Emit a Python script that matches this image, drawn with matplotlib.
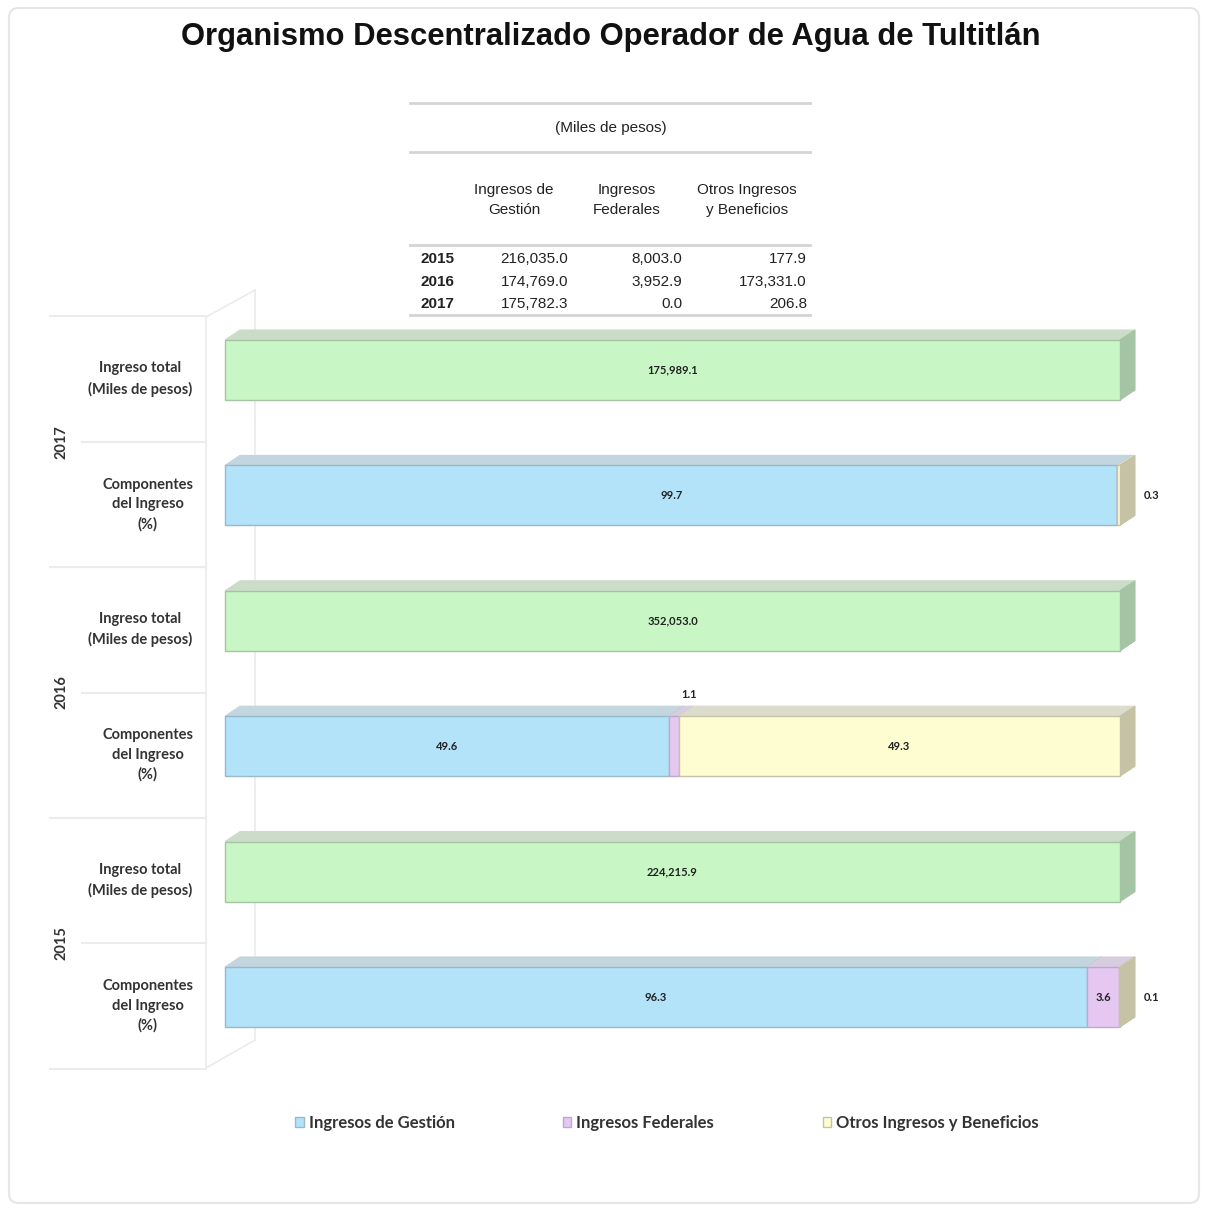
import numpy as np
import matplotlib.pyplot as plt
import matplotlib.transforms as mtransforms
from matplotlib.patches import Polygon, FancyBboxPatch
from matplotlib.lines import Line2D

W, H = 1206, 1209

# table data (miles de pesos)
years = ['2015', '2016', '2017']
table_cols = ['Ingresos de\nGestión', 'Ingresos\nFederales', 'Otros Ingresos\ny Beneficios']
ingresos_gestion = [216035.0, 174769.0, 175782.3]
ingresos_federales = [8003.0, 3952.9, 0.0]
otros_ingresos = [177.9, 173331.0, 206.8]

# chart data
total_ingreso = [224215.9, 352053.0, 175989.1]
pct_gestion = [96.3, 49.6, 99.7]
pct_federales = [3.6, 1.1, 0.0]
pct_otros = [0.1, 49.3, 0.3]

series_names = ['Ingresos de Gestión', 'Ingresos Federales', 'Otros Ingresos y Beneficios']
row_labels = ['Componentes\ndel Ingreso\n(%)', 'Ingreso total\n(Miles de pesos)']

# (front, top, side) colours
col_gestion = ('#b3e3f9', '#c3d5de', '#98b9c8')
col_federales = ('#e5c7f2', '#d8cce0', '#bfa9c9')
col_otros = ('#fdfdd1', '#dcdccc', '#c6c2a6')
col_total = ('#c8f7c5', '#cbdcc9', '#a5c4a3')


def fx(px):
    return px / W


def fy(py):
    return 1 - py / H


fig = plt.figure(figsize=(W / 100, H / 100), dpi=100)
fig.patch.set_facecolor('white')

# light frame round the whole picture
fig.patches.append(FancyBboxPatch((fx(9), fy(1203)), fx(1190), 1195 / H,
                                  boxstyle='round,pad=0,rounding_size=0.008',
                                  transform=fig.transFigure, facecolor='none',
                                  edgecolor='#e6e6e6', linewidth=1.5))

fig.text(fx(611), fy(37), 'Organismo Descentralizado Operador de Agua de Tultitlán',
         ha='center', va='center', fontsize=22.3, fontweight='bold',
         family='Liberation Sans', color='#111111')

# ---- table ----
tfont = dict(family='Liberation Sans', fontsize=11, color='#222222')
for y in (103, 152, 245, 315):
    fig.lines.append(Line2D([fx(410), fx(810)], [fy(y), fy(y)], transform=fig.transFigure,
                            color='#d4d4d4', linewidth=2))
fig.text(fx(611), fy(128), '(Miles de pesos)', ha='center', va='center', **tfont)
for cx, name in zip((514, 627, 747), table_cols):
    fig.text(fx(cx), fy(200), name, ha='center', va='center', linespacing=1.6, **tfont)
for i, yr in enumerate(years):
    yy = fy(259 + i * 22.5)
    fig.text(fx(420), yy, yr, ha='left', va='center', fontweight='bold', **tfont)
    vals = (ingresos_gestion[i], ingresos_federales[i], otros_ingresos[i])
    for rx, v in zip((568, 682, 807), vals):
        fig.text(fx(rx), yy, f'{v:,.1f}', ha='right', va='center', **tfont)

# faint wall of the 3D plot area (behind the bars)
wall = dict(transform=fig.transFigure, color='#ebebeb', linewidth=1.2, zorder=-1)
fig.lines.append(Line2D([fx(206), fx(206)], [fy(317), fy(1068)], **wall))
fig.lines.append(Line2D([fx(255), fx(255)], [fy(290), fy(1040)], **wall))
fig.lines.append(Line2D([fx(206), fx(255)], [fy(317), fy(290)], **wall))
fig.lines.append(Line2D([fx(206), fx(255)], [fy(1068), fy(1040)], **wall))

# ---- chart ----
ymin, ymax = -0.572, 5.428
px_per_unit = 125.4
ax_top = 370 - (ymax - 5) * px_per_unit
ax_bot = 997 - ymin * px_per_unit
ax = fig.add_axes([fx(225), fy(ax_bot), fx(1120 - 225), (ax_bot - ax_top) / H])
ax.set_xlim(0, 100)
ax.set_ylim(ymin, ymax)
ax.axis('off')

dx = 15 * 100 / (1120 - 225)
dy = 10 / px_per_unit
bar_h = 60 / px_per_unit
lab_font = dict(family='Lato', fontweight='bold', fontsize=8, color='#222222')


def draw_segment(left, width, y, colors, label=None):
    front, top, side = colors
    t = y + bar_h / 2
    b = y - bar_h / 2
    r = left + width
    ax.add_patch(Polygon([(left, t), (r, t), (r + dx, t + dy), (left + dx, t + dy)],
                         closed=True, facecolor=top, edgecolor=top, linewidth=0.8,
                         clip_on=False))
    ax.add_patch(Polygon([(r, b), (r + dx, b + dy), (r + dx, t + dy), (r, t)],
                         closed=True, facecolor=side, edgecolor=side, linewidth=0.8,
                         clip_on=False))
    bar = ax.barh(y, width, left=left, height=bar_h, color=front,
                  edgecolor=side, linewidth=1.0, label=label, clip_on=False)
    return bar


yrows = np.arange(6)
handles = []
for k in range(3):
    y_comp = yrows[2 * k]
    y_tot = yrows[2 * k + 1]
    # total row
    draw_segment(0, 100, y_tot, col_total)
    ax.text(50, y_tot, f'{total_ingreso[k]:,.1f}', ha='center', va='center', **lab_font)
    # components row
    left = 0
    for j, (vals, cols) in enumerate(((pct_gestion, col_gestion),
                                      (pct_federales, col_federales),
                                      (pct_otros, col_otros))):
        v = vals[k]
        b = draw_segment(left, v, y_comp, cols, label=series_names[j] if k == 0 else None)
        if k == 0:
            handles.append(b)
        if v > 0:
            if v >= 2:
                ax.text(left + v / 2, y_comp, f'{v:.1f}', ha='center', va='center', **lab_font)
            elif v >= 1:
                ax.text(left + v / 2 + dx, y_comp + bar_h / 2 + dy + 12 / px_per_unit,
                        f'{v:.1f}', ha='center', va='center', **lab_font)
            else:
                ax.text(100 + 32 * 100 / 895, y_comp, f'{v:.1f}', ha='center',
                        va='center', **lab_font)
        left += v

# category labels, year labels and separators on the left
blend = mtransforms.blended_transform_factory(fig.transFigure, ax.transData)
band_shift = 9 / px_per_unit
cat_font = dict(family='Lato', fontweight='bold', fontsize=10.5, color='#333333')
for k, yr in enumerate(years):
    y_comp = yrows[2 * k] - band_shift
    y_tot = yrows[2 * k + 1] - band_shift
    ax.text(fx(148), y_comp, row_labels[0], transform=blend, ha='center', va='center',
            linespacing=1.5, **cat_font)
    ax.text(fx(140), y_tot, row_labels[1], transform=blend, ha='center', va='center',
            linespacing=1.5, **cat_font)
    ax.text(fx(62), y_comp + 0.5, yr, transform=blend, ha='center', va='center',
            rotation=90, **cat_font)
    for yy, x0 in ((y_comp - 0.5, 50), (y_comp + 0.5, 82), (y_tot + 0.5, 50)):
        ax.add_line(Line2D([fx(x0), fx(206)], [yy, yy], transform=blend,
                           color='#ececec', linewidth=1.5, clip_on=False))

leg = fig.legend(handles=handles, labels=series_names, loc='center',
                 bbox_to_anchor=(fx(667), fy(1123)), ncol=3, frameon=False,
                 handlelength=0.5, handleheight=0.5, handletextpad=0.3,
                 columnspacing=6.5,
                 prop=dict(family='Lato', weight='bold', size=12))
for t in leg.get_texts():
    t.set_color('#333333')

fig.savefig('out.png', dpi=100, facecolor='white')
